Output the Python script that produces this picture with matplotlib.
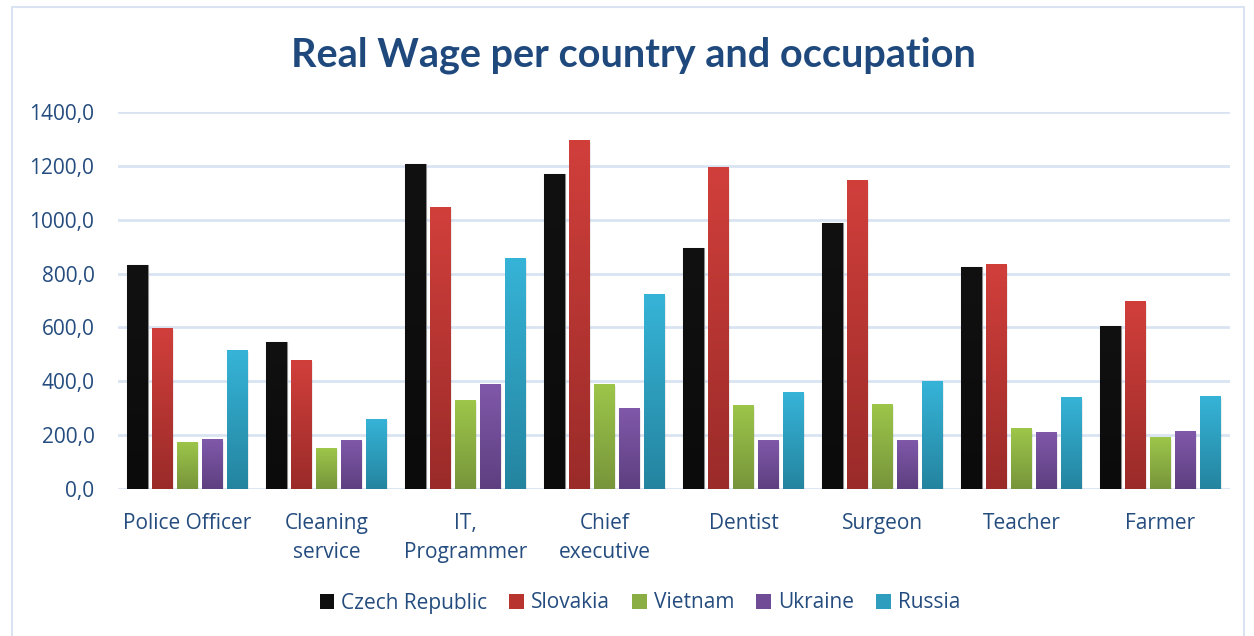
import matplotlib
matplotlib.use("Agg")
import matplotlib.pyplot as plt
import numpy as np
from matplotlib.colors import LinearSegmentedColormap
from matplotlib.patches import Rectangle

categories = ["Police Officer", "Cleaning\nservice", "IT,\nProgrammer", "Chief\nexecutive",
              "Dentist", "Surgeon", "Teacher", "Farmer"]
series_names = ["Czech Republic", "Slovakia", "Vietnam", "Ukraine", "Russia"]
czech = [832, 546, 1207, 1170, 895, 988, 824, 605]
slovakia = [598, 479, 1047, 1296, 1196, 1147, 835, 698]
vietnam = [176, 152, 330, 390, 312, 316, 226, 193]
ukraine = [184, 182, 390, 301, 182, 182, 212, 215]
russia = [516, 260, 858, 724, 360, 401, 342, 345]
yticks = [0, 200, 400, 600, 800, 1000, 1200, 1400]

series = [czech, slovakia, vietnam, ukraine, russia]
top_colors = ["#111111", "#D13F3B", "#9DC64A", "#8059AA", "#36B4D8"]
bot_colors = ["#0B0B0B", "#9A2B29", "#77953B", "#5E3F80", "#24849F"]
mid_colors = ["#0E0E0E", "#B8352F", "#8AAE43", "#6F4C95", "#2E9DBE"]

title_color = "#1F497D"
text_color = "#244C7E"
grid_color = "#D9E3F2"

fig = plt.figure(figsize=(12.54, 6.36), dpi=100)
fig.patches.append(Rectangle((12 / 1254, -0.01), (1244 - 12) / 1254, 1 - 7 / 636 + 0.01,
                             transform=fig.transFigure, fill=False, edgecolor=grid_color,
                             linewidth=1.5))
ax = fig.add_axes([118 / 1254, 1 - 489 / 636, (1230 - 118) / 1254, (489 - 112) / 636])

x = np.arange(len(categories))
step = 0.18
width = 0.145
grad = np.linspace(0, 1, 256).reshape(-1, 1)
for i, (vals, name) in enumerate(zip(series, series_names)):
    offs = (i - 2) * step
    ec = "#8C8C8C" if i == 0 else "none"
    bars = ax.bar(x + offs, vals, width, color=mid_colors[i], label=name,
                  edgecolor=ec, linewidth=0.8, zorder=3)
    cmap = LinearSegmentedColormap.from_list("g%d" % i, [bot_colors[i], top_colors[i]])
    for b in bars:
        x0, y0 = b.get_x(), b.get_y()
        w, h = b.get_width(), b.get_height()
        # shadow
        ax.add_patch(Rectangle((x0 + 0.012, y0), w, h - 6, facecolor="#000000",
                               alpha=0.07, edgecolor="none", zorder=2.5))
        im = ax.imshow(grad, cmap=cmap, origin="lower", aspect="auto",
                       extent=(x0, x0 + w, y0, y0 + h), zorder=3.1)
        im.set_clip_path(b)

ax.set_xlim(-0.5, len(categories) - 0.5)
ax.set_ylim(0, 1400)
ax.set_yticks(yticks)
ax.set_yticklabels([f"{v:.1f}".replace(".", ",") for v in yticks])
ax.set_xticks(x)
ax.set_xticklabels(categories)
ax.yaxis.grid(True, color=grid_color, linewidth=2, zorder=0)
ax.set_axisbelow(True)
for s in ax.spines.values():
    s.set_visible(False)
ax.tick_params(axis="both", length=0, colors=text_color, labelsize=15)
ax.tick_params(axis="x", pad=17)
ax.tick_params(axis="y", pad=17)
for lab in ax.get_xticklabels() + ax.get_yticklabels():
    lab.set_fontfamily("Open Sans")
    lab.set_color(text_color)
for lab in ax.get_xticklabels():
    lab.set_linespacing(1.55)
    lab.set_verticalalignment("top")

fig.text(0.5 + 6 / 1254, 1 - 55 / 636, "Real Wage per country and occupation", ha="center",
         va="center", fontsize=28.5, fontweight="bold", color=title_color, family="Lato")

handles = [Rectangle((0, 0), 1, 1, facecolor=mid_colors[i]) for i in range(5)]
leg = fig.legend(handles, series_names, loc="center", bbox_to_anchor=(640 / 1254, 1 - 603 / 636),
                 ncol=5, frameon=False, handlelength=0.7, handleheight=0.7,
                 handletextpad=0.35, columnspacing=1.05,
                 prop={"family": "Open Sans", "size": 15})
for t in leg.get_texts():
    t.set_color(text_color)

fig.savefig("out.png", dpi=100)
